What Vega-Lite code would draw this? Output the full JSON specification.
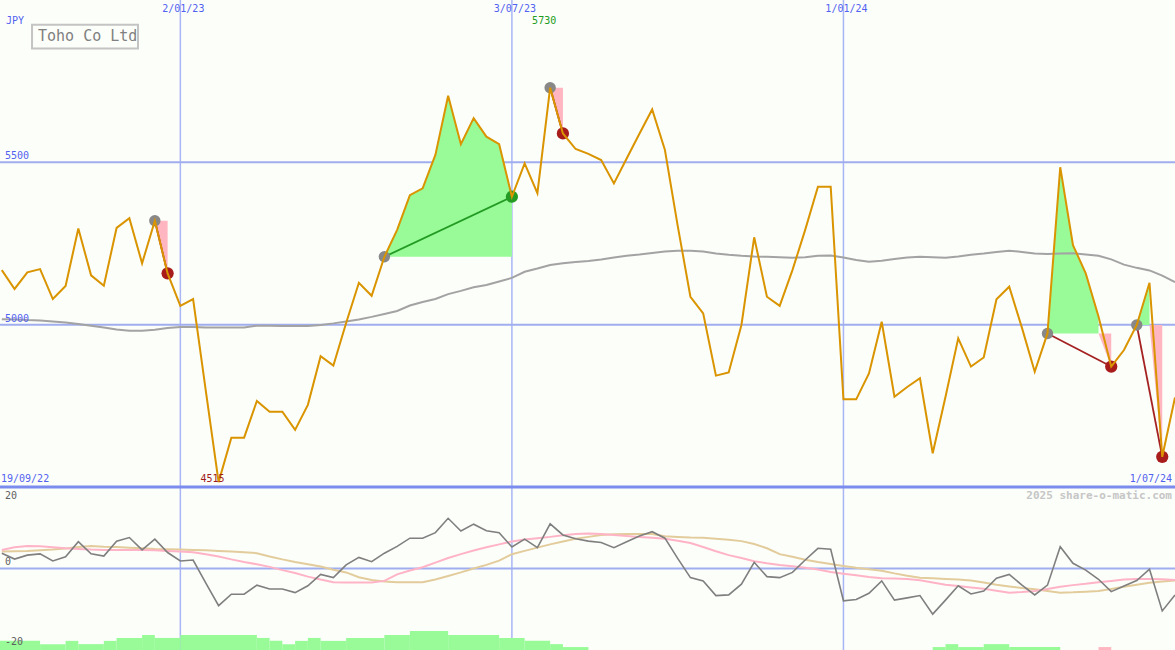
{
  "$schema": "https://vega.github.io/schema/vega-lite/v6.json",
  "background": "#fcfefa",
  "padding": 0,
  "autosize": {"type": "none"},
  "width": 1175,
  "height": 650,
  "config": {"view": {"stroke": null}, "font": "DejaVu Sans Mono"},
  "datasets": {
    "weekly": [
      {"date":"2022-09-26","close":5168,"ma":5017,"osc":4.7,"sig1":5.7,"sig2":5.2},
      {"date":"2022-10-03","close":5110,"ma":5016,"osc":2.9,"sig1":6.5,"sig2":5.3},
      {"date":"2022-10-10","close":5161,"ma":5014,"osc":4.1,"sig1":6.9,"sig2":5.4},
      {"date":"2022-10-17","close":5171,"ma":5013,"osc":4.5,"sig1":6.8,"sig2":5.6},
      {"date":"2022-10-24","close":5079,"ma":5010,"osc":2.3,"sig1":6.5,"sig2":5.8},
      {"date":"2022-10-31","close":5119,"ma":5007,"osc":3.6,"sig1":6.2,"sig2":6.1},
      {"date":"2022-11-07","close":5296,"ma":5002,"osc":8.2,"sig1":6.0,"sig2":6.6},
      {"date":"2022-11-14","close":5152,"ma":4997,"osc":4.5,"sig1":5.8,"sig2":6.9},
      {"date":"2022-11-21","close":5120,"ma":4991,"osc":3.8,"sig1":5.7,"sig2":6.7},
      {"date":"2022-11-28","close":5298,"ma":4985,"osc":8.4,"sig1":5.7,"sig2":6.6},
      {"date":"2022-12-05","close":5328,"ma":4981,"osc":9.5,"sig1":5.7,"sig2":6.4},
      {"date":"2022-12-12","close":5189,"ma":4981,"osc":5.7,"sig1":5.7,"sig2":6.2},
      {"date":"2022-12-19","close":5320,"ma":4984,"osc":9.0,"sig1":5.6,"sig2":6.0},
      {"date":"2022-12-26","close":5158,"ma":4990,"osc":4.9,"sig1":5.4,"sig2":5.9},
      {"date":"2023-01-02","close":5058,"ma":4993,"osc":2.3,"sig1":5.2,"sig2":5.8},
      {"date":"2023-01-09","close":5079,"ma":4993,"osc":2.6,"sig1":5.0,"sig2":5.7},
      {"date":"2023-01-16","close":4795,"ma":4991,"osc":-4.5,"sig1":4.4,"sig2":5.6},
      {"date":"2023-01-23","close":4515,"ma":4991,"osc":-11.4,"sig1":3.7,"sig2":5.4},
      {"date":"2023-01-30","close":4652,"ma":4991,"osc":-7.9,"sig1":2.8,"sig2":5.2},
      {"date":"2023-02-06","close":4652,"ma":4991,"osc":-7.9,"sig1":2.0,"sig2":5.0},
      {"date":"2023-02-13","close":4765,"ma":4997,"osc":-5.1,"sig1":1.3,"sig2":4.7},
      {"date":"2023-02-20","close":4732,"ma":4997,"osc":-6.3,"sig1":0.5,"sig2":3.7},
      {"date":"2023-02-27","close":4732,"ma":4996,"osc":-6.3,"sig1":-0.5,"sig2":2.8},
      {"date":"2023-03-06","close":4676,"ma":4996,"osc":-7.4,"sig1":-1.4,"sig2":2.0},
      {"date":"2023-03-13","close":4753,"ma":4996,"osc":-5.3,"sig1":-2.5,"sig2":1.3},
      {"date":"2023-03-20","close":4903,"ma":4999,"osc":-1.8,"sig1":-3.4,"sig2":0.6},
      {"date":"2023-03-27","close":4874,"ma":5004,"osc":-2.8,"sig1":-4.2,"sig2":-0.4},
      {"date":"2023-04-03","close":5005,"ma":5010,"osc":1.1,"sig1":-4.3,"sig2":-1.2},
      {"date":"2023-04-10","close":5129,"ma":5016,"osc":3.4,"sig1":-4.3,"sig2":-2.7},
      {"date":"2023-04-17","close":5089,"ma":5024,"osc":2.1,"sig1":-4.3,"sig2":-3.5},
      {"date":"2023-04-24","close":5209,"ma":5033,"osc":4.7,"sig1":-3.8,"sig2":-4.0},
      {"date":"2023-05-01","close":5292,"ma":5042,"osc":6.8,"sig1":-1.8,"sig2":-4.2},
      {"date":"2023-05-08","close":5399,"ma":5059,"osc":9.3,"sig1":-0.6,"sig2":-4.2},
      {"date":"2023-05-15","close":5420,"ma":5070,"osc":9.3,"sig1":0.4,"sig2":-4.2},
      {"date":"2023-05-22","close":5523,"ma":5079,"osc":11.0,"sig1":1.8,"sig2":-3.4},
      {"date":"2023-05-29","close":5705,"ma":5094,"osc":15.4,"sig1":3.2,"sig2":-2.3},
      {"date":"2023-06-05","close":5556,"ma":5104,"osc":11.5,"sig1":4.4,"sig2":-1.2},
      {"date":"2023-06-12","close":5636,"ma":5115,"osc":13.6,"sig1":5.5,"sig2":0.0},
      {"date":"2023-06-19","close":5579,"ma":5122,"osc":11.6,"sig1":6.5,"sig2":1.1},
      {"date":"2023-06-26","close":5556,"ma":5133,"osc":11.0,"sig1":7.4,"sig2":2.4},
      {"date":"2023-07-03","close":5394,"ma":5144,"osc":6.6,"sig1":8.3,"sig2":4.4},
      {"date":"2023-07-10","close":5497,"ma":5163,"osc":9.0,"sig1":8.9,"sig2":5.4},
      {"date":"2023-07-17","close":5405,"ma":5173,"osc":6.4,"sig1":9.3,"sig2":6.4},
      {"date":"2023-07-24","close":5730,"ma":5184,"osc":13.7,"sig1":9.7,"sig2":7.4},
      {"date":"2023-07-31","close":5589,"ma":5189,"osc":10.3,"sig1":10.2,"sig2":8.3},
      {"date":"2023-08-07","close":5541,"ma":5193,"osc":9.1,"sig1":10.6,"sig2":9.1},
      {"date":"2023-08-14","close":5526,"ma":5196,"osc":8.4,"sig1":10.7,"sig2":9.7},
      {"date":"2023-08-21","close":5507,"ma":5201,"osc":8.0,"sig1":10.6,"sig2":10.3},
      {"date":"2023-08-28","close":5435,"ma":5207,"osc":6.4,"sig1":10.3,"sig2":10.5},
      {"date":"2023-09-04","close":5512,"ma":5212,"osc":8.2,"sig1":10.0,"sig2":10.6},
      {"date":"2023-09-11","close":5588,"ma":5216,"osc":10.0,"sig1":9.7,"sig2":10.6},
      {"date":"2023-09-18","close":5663,"ma":5221,"osc":11.3,"sig1":9.4,"sig2":10.6},
      {"date":"2023-09-25","close":5538,"ma":5225,"osc":9.3,"sig1":9.1,"sig2":9.9},
      {"date":"2023-10-02","close":5305,"ma":5228,"osc":3.1,"sig1":8.5,"sig2":9.7},
      {"date":"2023-10-09","close":5086,"ma":5228,"osc":-2.8,"sig1":7.8,"sig2":9.5},
      {"date":"2023-10-16","close":5035,"ma":5225,"osc":-3.8,"sig1":6.6,"sig2":9.4},
      {"date":"2023-10-23","close":4843,"ma":5219,"osc":-8.3,"sig1":5.3,"sig2":9.1},
      {"date":"2023-10-30","close":4853,"ma":5215,"osc":-8.1,"sig1":4.1,"sig2":8.8},
      {"date":"2023-11-06","close":4999,"ma":5212,"osc":-4.8,"sig1":3.2,"sig2":8.4},
      {"date":"2023-11-13","close":5269,"ma":5210,"osc":1.9,"sig1":2.2,"sig2":7.5},
      {"date":"2023-11-20","close":5086,"ma":5209,"osc":-2.5,"sig1":1.6,"sig2":6.2},
      {"date":"2023-11-27","close":5058,"ma":5208,"osc":-2.8,"sig1":1.1,"sig2":4.4},
      {"date":"2023-12-04","close":5168,"ma":5206,"osc":-1.2,"sig1":0.7,"sig2":3.6},
      {"date":"2023-12-11","close":5292,"ma":5208,"osc":2.6,"sig1":0.2,"sig2":2.7},
      {"date":"2023-12-18","close":5425,"ma":5212,"osc":6.2,"sig1":-0.3,"sig2":2.0},
      {"date":"2023-12-25","close":5425,"ma":5213,"osc":5.9,"sig1":-1.1,"sig2":1.4},
      {"date":"2024-01-01","close":4770,"ma":5207,"osc":-9.9,"sig1":-1.6,"sig2":0.8},
      {"date":"2024-01-08","close":4770,"ma":5199,"osc":-9.5,"sig1":-2.1,"sig2":0.2},
      {"date":"2024-01-15","close":4850,"ma":5194,"osc":-7.6,"sig1":-2.6,"sig2":-0.2},
      {"date":"2024-01-22","close":5009,"ma":5197,"osc":-3.8,"sig1":-3.0,"sig2":-0.7},
      {"date":"2024-01-29","close":4778,"ma":5202,"osc":-9.7,"sig1":-3.1,"sig2":-1.5},
      {"date":"2024-02-05","close":4808,"ma":5207,"osc":-9.0,"sig1":-3.2,"sig2":-2.2},
      {"date":"2024-02-12","close":4835,"ma":5209,"osc":-8.3,"sig1":-3.6,"sig2":-2.8},
      {"date":"2024-02-19","close":4604,"ma":5208,"osc":-14.0,"sig1":-4.3,"sig2":-3.0},
      {"date":"2024-02-26","close":4777,"ma":5206,"osc":-9.7,"sig1":-5.0,"sig2":-3.2},
      {"date":"2024-03-04","close":4958,"ma":5210,"osc":-5.3,"sig1":-5.4,"sig2":-3.4},
      {"date":"2024-03-11","close":4871,"ma":5215,"osc":-7.8,"sig1":-5.8,"sig2":-3.7},
      {"date":"2024-03-18","close":4899,"ma":5219,"osc":-6.9,"sig1":-6.2,"sig2":-4.3},
      {"date":"2024-03-25","close":5078,"ma":5224,"osc":-3.0,"sig1":-6.8,"sig2":-5.0},
      {"date":"2024-04-01","close":5117,"ma":5228,"osc":-1.8,"sig1":-7.4,"sig2":-5.5},
      {"date":"2024-04-08","close":4990,"ma":5224,"osc":-5.1,"sig1":-7.2,"sig2":-6.0},
      {"date":"2024-04-15","close":4855,"ma":5219,"osc":-8.1,"sig1":-6.9,"sig2":-6.4},
      {"date":"2024-04-22","close":4973,"ma":5218,"osc":-5.1,"sig1":-6.3,"sig2":-6.9},
      {"date":"2024-04-29","close":5485,"ma":5219,"osc":6.7,"sig1":-5.6,"sig2":-7.4},
      {"date":"2024-05-06","close":5245,"ma":5220,"osc":1.6,"sig1":-5.1,"sig2":-7.3},
      {"date":"2024-05-13","close":5158,"ma":5216,"osc":-0.5,"sig1":-4.7,"sig2":-7.1},
      {"date":"2024-05-20","close":5025,"ma":5212,"osc":-3.3,"sig1":-4.2,"sig2":-6.9},
      {"date":"2024-05-27","close":4871,"ma":5201,"osc":-7.1,"sig1":-3.8,"sig2":-6.3},
      {"date":"2024-06-03","close":4922,"ma":5185,"osc":-5.4,"sig1":-3.4,"sig2":-5.6},
      {"date":"2024-06-10","close":4999,"ma":5175,"osc":-3.7,"sig1":-3.2,"sig2":-5.0},
      {"date":"2024-06-17","close":5129,"ma":5167,"osc":-0.2,"sig1":-3.2,"sig2":-4.4},
      {"date":"2024-06-24","close":4593,"ma":5151,"osc":-13.0,"sig1":-3.3,"sig2":-4.0},
      {"date":"2024-07-01","close":4776,"ma":5131,"osc":-8.1,"sig1":-3.5,"sig2":-3.7}
    ],
    "shade": [
      {"seg":"a","kind":"down","date":"2022-12-19","top":5320,"base":5320},
      {"seg":"a","kind":"down","date":"2022-12-26","top":5158,"base":5320},
      {"seg":"b","kind":"up","date":"2023-04-24","top":5209,"base":5209},
      {"seg":"b","kind":"up","date":"2023-05-01","top":5292,"base":5209},
      {"seg":"b","kind":"up","date":"2023-05-08","top":5399,"base":5209},
      {"seg":"b","kind":"up","date":"2023-05-15","top":5420,"base":5209},
      {"seg":"b","kind":"up","date":"2023-05-22","top":5523,"base":5209},
      {"seg":"b","kind":"up","date":"2023-05-29","top":5705,"base":5209},
      {"seg":"b","kind":"up","date":"2023-06-05","top":5556,"base":5209},
      {"seg":"b","kind":"up","date":"2023-06-12","top":5636,"base":5209},
      {"seg":"b","kind":"up","date":"2023-06-19","top":5579,"base":5209},
      {"seg":"b","kind":"up","date":"2023-06-26","top":5556,"base":5209},
      {"seg":"b","kind":"up","date":"2023-07-03","top":5394,"base":5209},
      {"seg":"c","kind":"down","date":"2023-07-24","top":5730,"base":5730},
      {"seg":"c","kind":"down","date":"2023-07-31","top":5589,"base":5730},
      {"seg":"d","kind":"up","date":"2024-04-22","top":4973,"base":4973},
      {"seg":"d","kind":"up","date":"2024-04-29","top":5485,"base":4973},
      {"seg":"d","kind":"up","date":"2024-05-06","top":5245,"base":4973},
      {"seg":"d","kind":"up","date":"2024-05-13","top":5158,"base":4973},
      {"seg":"d","kind":"up","date":"2024-05-20","top":5025,"base":4973},
      {"seg":"e","kind":"down","date":"2024-05-20","top":4973,"base":4973},
      {"seg":"e","kind":"down","date":"2024-05-27","top":4871,"base":4973},
      {"seg":"f","kind":"up","date":"2024-06-10","top":4999,"base":4999},
      {"seg":"f","kind":"up","date":"2024-06-17","top":5129,"base":4999},
      {"seg":"g","kind":"down","date":"2024-06-17","top":4999,"base":4999},
      {"seg":"g","kind":"down","date":"2024-06-24","top":4593,"base":4999}
    ],
    "signals": [
      {"seg":"s1","kind":"down","date":"2022-12-19","price":5320},
      {"seg":"s1","kind":"down","date":"2022-12-26","price":5158},
      {"seg":"s2","kind":"up","date":"2023-04-24","price":5209},
      {"seg":"s2","kind":"up","date":"2023-07-03","price":5394},
      {"seg":"s3","kind":"down","date":"2023-07-24","price":5730},
      {"seg":"s3","kind":"down","date":"2023-07-31","price":5589},
      {"seg":"s4","kind":"down","date":"2024-04-22","price":4973},
      {"seg":"s4","kind":"down","date":"2024-05-27","price":4871},
      {"seg":"s5","kind":"down","date":"2024-06-10","price":4999},
      {"seg":"s5","kind":"down","date":"2024-06-24","price":4593}
    ],
    "dots": [
      {"kind":"start","date":"2022-12-19","price":5320},
      {"kind":"start","date":"2023-04-24","price":5209},
      {"kind":"start","date":"2023-07-24","price":5730},
      {"kind":"start","date":"2024-04-22","price":4973},
      {"kind":"start","date":"2024-06-10","price":4999},
      {"kind":"up","date":"2023-07-03","price":5394},
      {"kind":"down","date":"2022-12-26","price":5158},
      {"kind":"down","date":"2023-07-31","price":5589},
      {"kind":"down","date":"2024-05-27","price":4871},
      {"kind":"down","date":"2024-06-24","price":4593}
    ],
    "grid": [
      {"date":"2023-01-02","label":"2/01/23"},
      {"date":"2023-07-03","label":"3/07/23"},
      {"date":"2024-01-01","label":"1/01/24"}
    ],
    "pricegrid": [
      {"date":"2022-09-25","price":5000,"label":"5000"},
      {"date":"2022-09-25","price":5500,"label":"5500"}
    ],
    "bars": [
      {"start":"2022-09-25","end":"2022-10-17","value":-22.2,"kind":"up"},
      {"start":"2022-10-17","end":"2022-10-31","value":-23.2,"kind":"up"},
      {"start":"2022-10-31","end":"2022-11-07","value":-22.2,"kind":"up"},
      {"start":"2022-11-07","end":"2022-11-21","value":-23.2,"kind":"up"},
      {"start":"2022-11-21","end":"2022-11-28","value":-22.2,"kind":"up"},
      {"start":"2022-11-28","end":"2022-12-12","value":-21.3,"kind":"up"},
      {"start":"2022-12-12","end":"2022-12-19","value":-20.4,"kind":"up"},
      {"start":"2022-12-19","end":"2023-01-02","value":-21.3,"kind":"up"},
      {"start":"2023-01-02","end":"2023-02-13","value":-20.4,"kind":"up"},
      {"start":"2023-02-13","end":"2023-02-20","value":-21.3,"kind":"up"},
      {"start":"2023-02-20","end":"2023-02-27","value":-22.2,"kind":"up"},
      {"start":"2023-02-27","end":"2023-03-06","value":-23.2,"kind":"up"},
      {"start":"2023-03-06","end":"2023-03-13","value":-22.2,"kind":"up"},
      {"start":"2023-03-13","end":"2023-03-20","value":-21.3,"kind":"up"},
      {"start":"2023-03-20","end":"2023-04-03","value":-22.2,"kind":"up"},
      {"start":"2023-04-03","end":"2023-04-24","value":-21.3,"kind":"up"},
      {"start":"2023-04-24","end":"2023-05-08","value":-20.4,"kind":"up"},
      {"start":"2023-05-08","end":"2023-05-29","value":-19.2,"kind":"up"},
      {"start":"2023-05-29","end":"2023-06-26","value":-20.4,"kind":"up"},
      {"start":"2023-06-26","end":"2023-07-10","value":-21.3,"kind":"up"},
      {"start":"2023-07-10","end":"2023-07-24","value":-22.2,"kind":"up"},
      {"start":"2023-07-24","end":"2023-07-31","value":-23.2,"kind":"up"},
      {"start":"2023-07-31","end":"2023-08-14","value":-24.1,"kind":"up"},
      {"start":"2024-02-19","end":"2024-02-26","value":-24.1,"kind":"up"},
      {"start":"2024-02-26","end":"2024-03-04","value":-23.2,"kind":"up"},
      {"start":"2024-03-04","end":"2024-03-18","value":-24.1,"kind":"up"},
      {"start":"2024-03-18","end":"2024-04-01","value":-23.2,"kind":"up"},
      {"start":"2024-04-01","end":"2024-04-29","value":-24.1,"kind":"up"},
      {"start":"2024-05-20","end":"2024-05-27","value":-24.1,"kind":"down"}
    ]
  },
  "encoding": {
    "x": {"field": "date", "type": "temporal", "scale": {"type": "utc", "domain": [1664064000000, 1719792000000]}, "axis": null}
  },
  "resolve": {"scale": {"y": "independent"}},
  "layer": [
    {
      "data": {"name": "grid"},
      "mark": {"type": "rule", "color": "#a9b5f5", "strokeWidth": 1.5},
      "encoding": {}
    },
    {
      "encoding": {
        "y": {"type": "quantitative", "scale": {"domain": [3997.95, 6000], "nice": false, "zero": false}, "axis": null}
      },
      "layer": [
        {"data": {"name": "pricegrid"}, "mark": {"type": "rule", "color": "#a0aef0", "strokeWidth": 2},
         "encoding": {"x": {"value": 0}, "x2": {"value": 1175}, "y": {"field": "price", "type": "quantitative"}}},
        {"data": {"name": "shade"}, "transform": [{"filter": "datum.kind === 'up'"}],
         "mark": {"type": "area", "color": "#98fb98", "opacity": 1},
         "encoding": {"y": {"field": "top", "type": "quantitative"}, "y2": {"field": "base"}, "detail": {"field": "seg", "type": "nominal"}}},
        {"data": {"name": "shade"}, "transform": [{"filter": "datum.kind === 'down'"}],
         "mark": {"type": "area", "color": "#ffb6c1", "opacity": 1},
         "encoding": {"y": {"field": "top", "type": "quantitative"}, "y2": {"field": "base"}, "detail": {"field": "seg", "type": "nominal"}}},
        {"data": {"name": "weekly"}, "mark": {"type": "line", "color": "#a3a3a3", "strokeWidth": 2},
         "encoding": {"y": {"field": "ma", "type": "quantitative"}}},
        {"data": {"name": "signals"}, "transform": [{"filter": "datum.kind === 'up'"}],
         "mark": {"type": "line", "color": "#239b23", "strokeWidth": 1.8},
         "encoding": {"y": {"field": "price", "type": "quantitative"}, "detail": {"field": "seg", "type": "nominal"}}},
        {"data": {"name": "signals"}, "transform": [{"filter": "datum.kind === 'down'"}],
         "mark": {"type": "line", "color": "#a52222", "strokeWidth": 1.8},
         "encoding": {"y": {"field": "price", "type": "quantitative"}, "detail": {"field": "seg", "type": "nominal"}}},
        {"data": {"name": "dots"}, "transform": [{"filter": "datum.kind === 'start'"}],
         "mark": {"type": "circle", "color": "#888888", "size": 130, "opacity": 1},
         "encoding": {"y": {"field": "price", "type": "quantitative"}}},
        {"data": {"name": "dots"}, "transform": [{"filter": "datum.kind === 'up'"}],
         "mark": {"type": "circle", "color": "#249c24", "size": 150, "opacity": 1},
         "encoding": {"y": {"field": "price", "type": "quantitative"}}},
        {"data": {"name": "dots"}, "transform": [{"filter": "datum.kind === 'down'"}],
         "mark": {"type": "circle", "color": "#a81c1c", "size": 150, "opacity": 1},
         "encoding": {"y": {"field": "price", "type": "quantitative"}}},
        {"data": {"name": "weekly"}, "mark": {"type": "line", "color": "#d99400", "strokeWidth": 2},
         "encoding": {"y": {"field": "close", "type": "quantitative"}}},
        {"data": {"name": "grid"},
         "mark": {"type": "text", "color": "#5262f0", "fontSize": 10, "dx": 3, "align": "center", "baseline": "middle"},
         "encoding": {"y": {"datum": 5972}, "text": {"field": "label", "type": "nominal"}}},
        {"data": {"name": "pricegrid"},
         "mark": {"type": "text", "color": "#5262f0", "fontSize": 10, "dx": 5, "dy": -6, "align": "left", "baseline": "middle"},
         "encoding": {"y": {"field": "price", "type": "quantitative"}, "text": {"field": "label", "type": "nominal"}}},
        {"data": {"values": [{"date": "2022-09-25", "label": "19/09/22"}]},
         "mark": {"type": "text", "color": "#5262f0", "fontSize": 10, "dx": 1, "align": "left", "baseline": "middle"},
         "encoding": {"y": {"datum": 4525}, "text": {"field": "label", "type": "nominal"}}},
        {"data": {"values": [{"date": "2024-07-01", "label": "1/07/24"}]},
         "mark": {"type": "text", "color": "#5262f0", "fontSize": 10, "dx": -3, "align": "right", "baseline": "middle"},
         "encoding": {"y": {"datum": 4525}, "text": {"field": "label", "type": "nominal"}}},
        {"data": {"values": [{"date": "2022-09-25", "label": "JPY"}]},
         "mark": {"type": "text", "color": "#5262f0", "fontSize": 10, "dx": 6, "align": "left", "baseline": "middle"},
         "encoding": {"y": {"datum": 5936}, "text": {"field": "label", "type": "nominal"}}},
        {"data": {"values": [{"date": "2022-10-12T14:00:00Z", "date2": "2022-12-09T18:00:00Z"}]},
         "mark": {"type": "rect", "fillOpacity": 0, "stroke": "#c4c4c4", "strokeWidth": 2},
         "encoding": {"x2": {"field": "date2"}, "y": {"datum": 5924}, "y2": {"datum": 5851}}},
        {"data": {"values": [{"date": "2022-09-25", "label": "Toho Co Ltd"}]},
         "mark": {"type": "text", "color": "#808080", "fontSize": 15, "dx": 38, "align": "left", "baseline": "middle"},
         "encoding": {"y": {"datum": 5888}, "text": {"field": "label", "type": "nominal"}}},
        {"data": {"values": [{"date": "2023-07-24", "label": "5730"}]},
         "mark": {"type": "text", "color": "#209c20", "fontSize": 10, "dx": -6, "align": "center", "baseline": "middle"},
         "encoding": {"y": {"datum": 5936}, "text": {"field": "label", "type": "nominal"}}},
        {"data": {"values": [{"date": "2023-01-23", "label": "4515"}]},
         "mark": {"type": "text", "color": "#a01c1c", "fontSize": 10, "dx": -6, "align": "center", "baseline": "middle"},
         "encoding": {"y": {"datum": 4525}, "text": {"field": "label", "type": "nominal"}}}
      ]
    },
    {
      "encoding": {
        "y": {"type": "quantitative", "scale": {"domain": [-25, 174.39], "nice": false, "zero": false}, "axis": null}
      },
      "layer": [
        {"data": {"values": [{"v": 0}]}, "mark": {"type": "rule", "color": "#a0aef0", "strokeWidth": 2},
         "encoding": {"x": {"value": 0}, "x2": {"value": 1175}, "y": {"field": "v", "type": "quantitative"}}},
        {"data": {"name": "bars"}, "transform": [{"filter": "datum.kind === 'up'"}],
         "mark": {"type": "rect", "color": "#98fb98"},
         "encoding": {"x": {"field": "start", "type": "temporal"}, "x2": {"field": "end"}, "y": {"field": "value", "type": "quantitative"}, "y2": {"datum": -25}}},
        {"data": {"name": "bars"}, "transform": [{"filter": "datum.kind === 'down'"}],
         "mark": {"type": "rect", "color": "#ffb6c1"},
         "encoding": {"x": {"field": "start", "type": "temporal"}, "x2": {"field": "end"}, "y": {"field": "value", "type": "quantitative"}, "y2": {"datum": -25}}},
        {"data": {"name": "weekly"}, "mark": {"type": "line", "color": "#e3cc9c", "strokeWidth": 2},
         "encoding": {"y": {"field": "sig2", "type": "quantitative"}}},
        {"data": {"name": "weekly"}, "mark": {"type": "line", "color": "#ffb3c6", "strokeWidth": 2},
         "encoding": {"y": {"field": "sig1", "type": "quantitative"}}},
        {"data": {"name": "weekly"}, "mark": {"type": "line", "color": "#7f7f7f", "strokeWidth": 1.6},
         "encoding": {"y": {"field": "osc", "type": "quantitative"}}},
        {"data": {"values": [{"date": "2022-09-25", "label": "20"}]},
         "mark": {"type": "text", "color": "#606060", "fontSize": 10, "dx": 5, "align": "left", "baseline": "middle"},
         "encoding": {"y": {"datum": 22.2}, "text": {"field": "label", "type": "nominal"}}},
        {"data": {"values": [{"date": "2022-09-25", "label": "0"}]},
         "mark": {"type": "text", "color": "#606060", "fontSize": 10, "dx": 5, "align": "left", "baseline": "middle"},
         "encoding": {"y": {"datum": 2.0}, "text": {"field": "label", "type": "nominal"}}},
        {"data": {"values": [{"date": "2022-09-25", "label": "-20"}]},
         "mark": {"type": "text", "color": "#606060", "fontSize": 10, "dx": 5, "align": "left", "baseline": "middle"},
         "encoding": {"y": {"datum": -22.5}, "text": {"field": "label", "type": "nominal"}}},
        {"data": {"values": [{"date": "2024-07-01", "label": "2025 share-o-matic.com"}]},
         "mark": {"type": "text", "color": "#c6c6c6", "fontSize": 11, "fontWeight": "bold", "dx": -3, "align": "right", "baseline": "middle"},
         "encoding": {"y": {"datum": 22.2}, "text": {"field": "label", "type": "nominal"}}},
        {"data": {"values": [{"v": 25}]}, "mark": {"type": "rule", "color": "#7b8bee", "strokeWidth": 3},
         "encoding": {"x": {"value": 0}, "x2": {"value": 1175}, "y": {"field": "v", "type": "quantitative"}}}
      ]
    }
  ]
}
